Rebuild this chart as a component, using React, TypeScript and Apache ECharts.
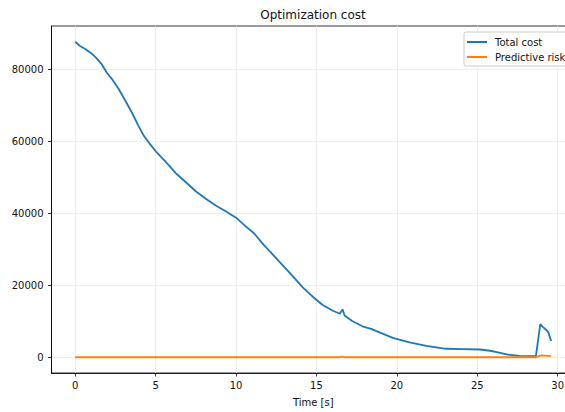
import React, { useEffect, useRef } from "react";
import * as echarts from "echarts";

const times: number[] = [
  0, 0.27, 0.62, 1.03, 1.3, 1.65, 1.96, 2.27, 2.68, 3.09, 3.51, 3.92, 4.23, 4.64,
  5.05, 5.67, 6.29, 6.91, 7.53, 8.14, 8.76, 9.38, 10.0, 10.62, 11.13, 11.65,
  12.27, 12.89, 13.51, 14.13, 14.75, 15.37, 15.99, 16.45, 16.62, 16.75, 17.24,
  17.86, 18.4, 18.92, 19.75, 20.79, 21.83, 23.08, 24.13, 25.17, 25.8, 26.21,
  26.9, 27.6, 28.65, 28.92, 29.05, 29.25, 29.42, 29.6,
];

const totalCost: number[] = [
  87700, 86600, 85700, 84400, 83200, 81400, 79100, 77400, 74700, 71500, 68100,
  64400, 61800, 59300, 57000, 54100, 51000, 48500, 46000, 44000, 42100, 40500,
  38800, 36300, 34400, 31600, 28600, 25600, 22600, 19500, 16900, 14600, 13000,
  12100, 13300, 11600, 10000, 8600, 7900, 6900, 5400, 4100, 3150, 2350, 2250,
  2150, 1800, 1450, 750, 400, 280, 9200, 8500, 7800, 6900, 4500,
];

const predictiveRisk: number[] = [
  0, 0, 0, 0, 0, 0, 0, 0, 0, 0, 0, 0, 0, 0, 0, 0, 0, 0, 0, 0, 0, 0, 0, 0, 0, 0,
  0, 0, 0, 0, 0, 0, 0, 0, 150, 0, 0, 0, 0, 0, 0, 0, 0, 0, 0, 0, 0, 0, 0, 0, 0,
  450, 500, 450, 350, 300,
];

const xTicks: number[] = [0, 5, 10, 15, 20, 25, 30];
const yTicks: number[] = [0, 20000, 40000, 60000, 80000];
const seriesNames: string[] = ["Total cost", "Predictive risk"];

const FONT = "DejaVu Sans";

export default function App() {
  const ref = useRef<HTMLDivElement>(null);

  useEffect(() => {
    if (!ref.current) return;
    const chart = echarts.init(ref.current, undefined, { renderer: "svg" });
    const blue = times.map((t, i) => [t, totalCost[i]]);
    const orange = times.map((t, i) => [t, predictiveRisk[i]]);

    chart.setOption({
      animation: false,
      backgroundColor: "#ffffff",
      textStyle: { fontFamily: FONT },
      graphic: [
        {
          type: "text",
          x: 313,
          y: 15,
          style: {
            text: "Optimization cost",
            align: "center",
            verticalAlign: "middle",
            fontFamily: FONT,
            fontSize: 12,
            fill: "#111",
          },
        },
      ],
      legend: {
        orient: "vertical",
        left: 464,
        top: 32,
        padding: [5, 8, 4, 3],
        itemGap: 5,
        itemWidth: 20,
        itemHeight: 2,
        icon: "rect",
        backgroundColor: "rgba(255,255,255,0.85)",
        borderColor: "#cccccc",
        borderWidth: 1,
        borderRadius: 2,
        data: seriesNames,
        textStyle: {
          fontFamily: FONT,
          fontSize: 10,
          color: "#111",
          padding: [0, 0, 0, 3],
        },
      },
      grid: {
        left: 51.5,
        right: 5,
        top: 26,
        bottom: 37.7,
        show: true,
        borderColor: "#000",
        borderWidth: 0.8,
        backgroundColor: "transparent",
      },
      xAxis: {
        type: "value",
        min: -1.48,
        max: 31.08,
        name: "Time [s]",
        nameLocation: "middle",
        nameGap: 24,
        nameTextStyle: { fontFamily: FONT, fontSize: 10, color: "#111" },
        axisLine: { show: true, onZero: false, lineStyle: { color: "#000", width: 0.8 } },
        axisTick: {
          show: true,
          inside: false,
          length: 3.5,
          customValues: xTicks,
          lineStyle: { color: "#000", width: 0.8 },
        },
        axisLabel: {
          customValues: xTicks,
          margin: 7,
          fontFamily: FONT,
          fontSize: 10,
          color: "#111",
          formatter: (v: number) => String(v),
        },
        splitLine: { show: true, lineStyle: { color: "#ebebeb", width: 0.8 } },
      },
      yAxis: {
        type: "value",
        min: -4385,
        max: 92085,
        axisLine: { show: true, onZero: false, lineStyle: { color: "#000", width: 0.8 } },
        axisTick: {
          show: true,
          inside: false,
          length: 3.5,
          customValues: yTicks,
          lineStyle: { color: "#000", width: 0.8 },
        },
        axisLabel: {
          customValues: yTicks,
          margin: 8,
          fontFamily: FONT,
          fontSize: 10,
          color: "#111",
          formatter: (v: number) => String(v),
        },
        splitLine: { show: true, lineStyle: { color: "#ebebeb", width: 0.8 } },
      },
      series: [
        {
          name: seriesNames[0],
          type: "line",
          data: blue,
          showSymbol: false,
          symbol: "none",
          lineStyle: { color: "#1f77b4", width: 1.8 },
          itemStyle: { color: "#1f77b4" },
          z: 3,
        },
        {
          name: seriesNames[1],
          type: "line",
          data: orange,
          showSymbol: false,
          symbol: "none",
          lineStyle: { color: "#ff7f0e", width: 1.8 },
          itemStyle: { color: "#ff7f0e" },
          z: 3,
        },
      ],
    });

    return () => chart.dispose();
  }, []);

  return (
    <div
      style={{
        position: "fixed",
        left: 0,
        top: 0,
        width: 565,
        height: 412,
        overflow: "hidden",
        background: "#fff",
      }}
    >
      <div ref={ref} style={{ width: 580, height: 412 }} />
    </div>
  );
}
